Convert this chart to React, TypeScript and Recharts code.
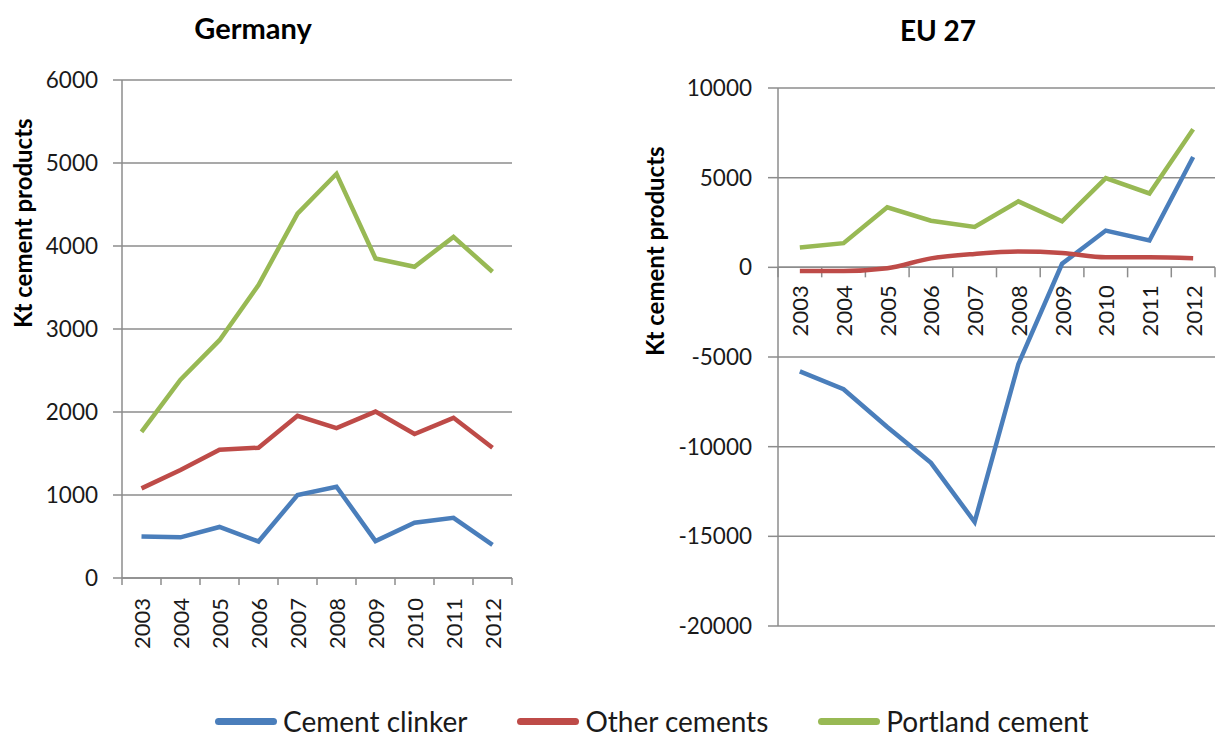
import { CartesianGrid, Line, LineChart, ReferenceLine, XAxis, YAxis } from 'recharts';

const years = ['2003', '2004', '2005', '2006', '2007', '2008', '2009', '2010', '2011', '2012'];

// Germany, Kt
const deClinker = [500, 490, 615, 440, 1000, 1100, 445, 665, 725, 400];
const deOther = [1080, 1300, 1545, 1570, 1955, 1805, 2005, 1735, 1930, 1570];
const dePortland = [1760, 2390, 2865, 3530, 4390, 4870, 3850, 3750, 4110, 3690];
const deTicks = [0, 1000, 2000, 3000, 4000, 5000, 6000];

// EU 27, Kt
const euClinker = [-5800, -6800, -8900, -10900, -14200, -5400, 200, 2050, 1500, 6150];
const euOther = [-200, -200, -50, 500, 750, 880, 800, 560, 560, 500];
const euPortland = [1100, 1350, 3350, 2600, 2250, 3680, 2570, 4970, 4120, 7700];
const euTicks = [-20000, -15000, -10000, -5000, 0, 5000, 10000];

const seriesNames = ['Cement clinker', 'Other cements', 'Portland cement'];
const seriesColors = ['#4a7ebb', '#be4b48', '#98b954'];

const FONT = 'Lato, "Open Sans", sans-serif';
const GRID = '#8c8c8c';
const TEXT = '#1a1a1a';

const deData = years.map((year, i) => ({
  year,
  clinker: deClinker[i],
  other: deOther[i],
  portland: dePortland[i],
}));

const euData = years.map((year, i) => ({
  year,
  clinker: euClinker[i],
  other: euOther[i],
  portland: euPortland[i],
}));

// zero line doubles as the category axis: boundary ticks + rotated year labels
function makeCategoryAxis(tickLen: number, labelGap: number) {
  return (props: any) => {
    const { x1, x2, y1 } = props;
    const bw = (x2 - x1) / years.length;
    return (
      <g>
        <line x1={x1} x2={x2} y1={y1} y2={y1} stroke={GRID} strokeWidth={1.5} />
        {Array.from({ length: years.length + 1 }, (_, i) => (
          <line
            key={`t${i}`}
            x1={x1 + i * bw}
            x2={x1 + i * bw}
            y1={y1}
            y2={y1 + tickLen}
            stroke={GRID}
            strokeWidth={1.5}
          />
        ))}
        {years.map((y, i) => (
          <text
            key={y}
            transform={`translate(${x1 + (i + 0.5) * bw}, ${y1 + labelGap}) rotate(-90)`}
            textAnchor="end"
            dominantBaseline="central"
            fontSize={22}
            fontFamily={FONT}
            fill={TEXT}
          >
            {y}
          </text>
        ))}
      </g>
    );
  };
}

function makeYTitle(offsetX: number) {
  return (props: any) => {
    const vb = props.viewBox;
    return (
      <text
        transform={`translate(${vb.x + offsetX}, ${vb.y + vb.height / 2 - 1}) rotate(-90)`}
        textAnchor="start"
        dominantBaseline="central"
        fontSize={24}
        fontWeight="bold"
        fontFamily={FONT}
        fill="#000"
      >
        Kt cement products
      </text>
    );
  };
}

interface PanelProps {
  data: typeof deData;
  width: number;
  height: number;
  margin: { top: number; right: number; bottom: number; left: number };
  yWidth: number;
  domain: [number, number];
  ticks: number[];
  tickSize: number;
  tickMargin: number;
  xTickLen: number;
  xLabelGap: number;
  titleX: number;
  smoothOther?: boolean;
}

function Panel(p: PanelProps) {
  return (
    <LineChart width={p.width} height={p.height} data={p.data} margin={p.margin}>
      <CartesianGrid horizontal vertical={false} stroke={GRID} strokeWidth={1.5} />
      <XAxis dataKey="year" hide scale="band" />
      <YAxis
        width={p.yWidth}
        domain={p.domain}
        ticks={p.ticks}
        interval={0}
        allowDataOverflow
        axisLine={{ stroke: GRID, strokeWidth: 1.5 }}
        tickLine={{ stroke: GRID, strokeWidth: 1.5 }}
        tickSize={p.tickSize}
        tickMargin={p.tickMargin}
        tick={{ fill: TEXT, fontSize: 22.5, fontFamily: FONT }}
        label={{ content: makeYTitle(p.titleX) }}
      />
      <ReferenceLine y={0} shape={makeCategoryAxis(p.xTickLen, p.xLabelGap)} />
      <Line
        type="linear"
        dataKey="clinker"
        stroke={seriesColors[0]}
        strokeWidth={4.5}
        dot={false}
        isAnimationActive={false}
      />
      <Line
        type={p.smoothOther ? 'monotone' : 'linear'}
        dataKey="other"
        stroke={seriesColors[1]}
        strokeWidth={4.5}
        dot={false}
        isAnimationActive={false}
      />
      <Line
        type="linear"
        dataKey="portland"
        stroke={seriesColors[2]}
        strokeWidth={4.5}
        dot={false}
        isAnimationActive={false}
      />
    </LineChart>
  );
}

export default function App() {
  return (
    <div
      style={{
        position: 'absolute',
        left: 0,
        top: 0,
        width: 1217,
        height: 740,
        background: '#fff',
        fontFamily: FONT,
        overflow: 'hidden',
      }}
    >
      <div style={{ position: 'absolute', left: 0, top: 0 }}>
        <Panel
          data={deData}
          width={560}
          height={680}
          margin={{ top: 80, right: 48, bottom: 102, left: 0 }}
          yWidth={122}
          domain={[0, 6000]}
          ticks={deTicks}
          tickSize={9}
          tickMargin={15}
          xTickLen={7}
          xLabelGap={20}
          titleX={22}
        />
      </div>
      <div style={{ position: 'absolute', left: 600, top: 0 }}>
        <Panel
          data={euData}
          width={617}
          height={680}
          margin={{ top: 88, right: 2, bottom: 54, left: 0 }}
          yWidth={178}
          domain={[-20000, 10000]}
          ticks={euTicks}
          tickSize={10}
          tickMargin={16}
          xTickLen={10}
          xLabelGap={18}
          titleX={54}
          smoothOther
        />
      </div>

      <div
        style={{
          position: 'absolute',
          left: 0,
          width: 506,
          top: 10,
          textAlign: 'center',
          fontSize: 29,
          fontWeight: 'bold',
          color: '#000',
        }}
      >
        Germany
      </div>
      <div
        style={{
          position: 'absolute',
          left: 838,
          width: 200,
          top: 13,
          textAlign: 'center',
          fontSize: 28,
          fontWeight: 'bold',
          color: '#000',
        }}
      >
        EU 27
      </div>

      <div
        style={{
          position: 'absolute',
          left: 215,
          top: 704,
          display: 'flex',
          alignItems: 'center',
          gap: 50,
          fontSize: 28,
          color: TEXT,
        }}
      >
        {seriesNames.map((name, i) => (
          <div key={name} style={{ display: 'flex', alignItems: 'center', gap: 6 }}>
            <div style={{ width: 62, height: 7, borderRadius: 4, background: seriesColors[i] }} />
            <span>{name}</span>
          </div>
        ))}
      </div>
    </div>
  );
}
